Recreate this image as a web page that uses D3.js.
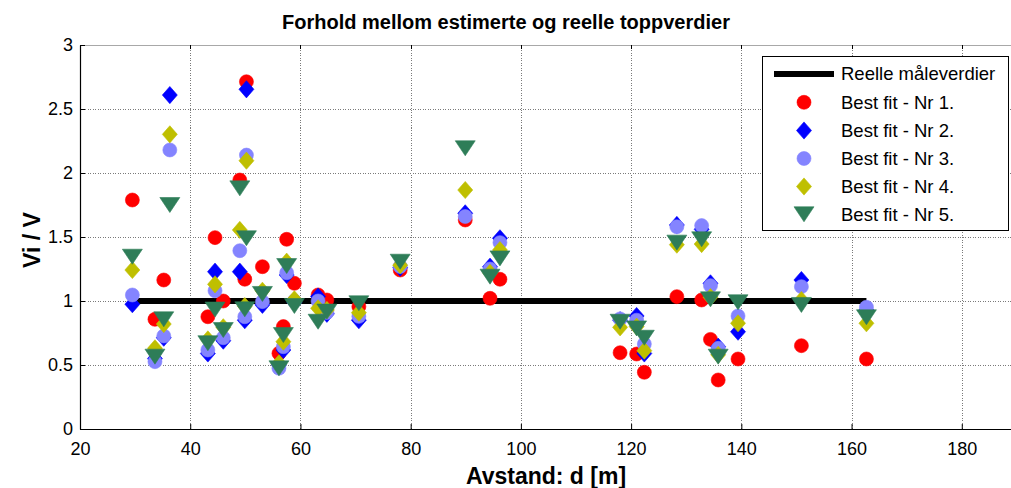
<!DOCTYPE html>
<html>
<head>
<meta charset="utf-8">
<script src="https://cdn.jsdelivr.net/npm/d3@7"></script>
<style>
  body { margin: 0; background: #fff; }
  svg { display: block; }
  text { font-family: "Liberation Sans", Arial, Helvetica, sans-serif; fill: #000; }
</style>
</head>
<body>
<svg id="chart" width="1011" height="488"></svg>
<script>
// Avstand d [m] for hver måling
const avstand = [29.5, 33.6, 35.2, 36.3, 43.2, 44.5, 46.0, 49.0, 49.9, 50.2,
                 53.1, 56.1, 56.9, 57.5, 58.9, 63.2, 64.8, 70.6, 78.1, 89.9,
                 94.4, 96.2, 118.0, 121.0, 122.4, 128.3, 132.8, 134.4, 135.8, 139.4,
                 150.9, 162.7];

// Forhold Vi / V for hver tilpasning (null = ikke registrert)
const nr1 = [1.789, 0.857, 1.164, null, 0.877, 1.495, 1.000, 1.945, 1.170, 2.713,
             1.268, 0.591, 0.800, 1.482, 1.138, 1.047, 1.008, 0.956, 1.242, 1.633,
             1.021, 1.170, 0.596, 0.586, 0.443, 1.034, 1.008, 0.700, 0.383, 0.547,
             0.651, 0.547];
const nr2 = [0.975, 0.550, 0.713, 2.609, 0.590, 1.229, 0.690, 1.229, 0.850, 2.654,
             0.970, 0.500, 0.617, 1.203, 0.990, 1.035, 0.900, 0.850, 1.260, 1.685,
             1.268, 1.490, 0.850, 0.883, 0.590, 1.594, 1.560, 1.138, 0.643, 0.760,
             1.164, 0.930];
const nr3 = [1.047, 0.526, 0.727, 2.180, 0.617, 1.080, 0.713, 1.393, 0.877, 2.140,
             0.995, 0.475, 0.643, 1.221, 1.000, 1.000, 0.910, 0.880, 1.270, 1.660,
             1.250, 1.456, 0.860, 0.850, 0.664, 1.580, 1.589, 1.120, 0.630, 0.883,
             1.112, 0.951];
const nr4 = [1.242, 0.630, 0.820, 2.302, 0.700, 1.130, 0.795, 1.555, 0.960, 2.096,
             1.080, 0.513, 0.682, 1.307, 1.013, 0.943, 0.930, 0.909, 1.280, 1.867,
             1.220, 1.398, 0.794, 0.800, 0.612, 1.440, 1.445, 1.030, 0.580, 0.826,
             1.008, 0.826];
const nr5 = [1.346, 0.565, 0.857, 1.750, 0.670, 0.933, 0.773, 1.880, 0.935, 1.490,
             1.055, 0.474, 0.734, 1.273, 0.961, 0.838, 0.917, 0.982, 1.307, 2.193,
             1.190, 1.333, 0.838, 0.786, 0.713, 1.456, 1.482, 1.013, 0.565, 0.990,
             0.969, 0.873];

const reelleVerdi = 1;

const xTicks = [20, 40, 60, 80, 100, 120, 140, 160, 180];
const yTicks = [0, 0.5, 1, 1.5, 2, 2.5, 3];

const seriesNames = ["Best fit - Nr 1.", "Best fit - Nr 2.", "Best fit - Nr 3.",
                     "Best fit - Nr 4.", "Best fit - Nr 5."];
const seriesValues = [nr1, nr2, nr3, nr4, nr5];
const seriesColors = ["#ff0000", "#0000ff", "#8484ff", "#bfbf00", "#2e7d58"];
const seriesShapes = ["circle", "diamond", "circle", "diamond", "triangleDown"];

// Marker outlines, centred on (0,0)
function markerPath(shape) {
  if (shape === "circle") {
    return d3.symbol().type(d3.symbolCircle).size(Math.PI * 7 * 7)();
  }
  const p = d3.path();
  if (shape === "diamond") {
    const w = 7.5, h = 8.6;
    p.moveTo(0, -h); p.lineTo(w, 0); p.lineTo(0, h); p.lineTo(-w, 0); p.closePath();
  } else {
    const w = 10, h = 7.5;
    p.moveTo(-w, -h); p.lineTo(w, -h); p.lineTo(0, h); p.closePath();
  }
  return p.toString();
}

const svg = d3.select("#chart");
const plotLeft = 80, plotRight = 1072, plotTop = 45, plotBottom = 429;

// x runs on past the right edge of the picture (to 200)
const x = d3.scaleLinear().domain([20, 200]).range([plotLeft, plotRight]);
const y = d3.scaleLinear().domain([0, 3]).range([plotBottom, plotTop]);

// Grid
const grid = svg.append("g").attr("stroke", "#7a7a7a").attr("stroke-width", 1)
  .attr("stroke-dasharray", "1,1.5").attr("shape-rendering", "crispEdges");
grid.selectAll("line.gx").data(xTicks.filter(t => t > 20)).join("line")
  .attr("class", "gx")
  .attr("x1", d => Math.round(x(d)) + 0.5).attr("x2", d => Math.round(x(d)) + 0.5)
  .attr("y1", plotTop).attr("y2", plotBottom);
grid.selectAll("line.gy").data(yTicks.filter(t => t > 0 && t < 3)).join("line")
  .attr("class", "gy")
  .attr("x1", plotLeft).attr("x2", plotRight)
  .attr("y1", d => Math.round(y(d)) + 0.5).attr("y2", d => Math.round(y(d)) + 0.5);

// Top border
svg.append("line").attr("x1", plotLeft).attr("x2", plotRight)
  .attr("y1", plotTop + 0.5).attr("y2", plotTop + 0.5)
  .attr("stroke", "#a8a8a8").attr("stroke-width", 1);
svg.append("g").selectAll("line").data(xTicks).join("line")
  .attr("x1", d => Math.round(x(d)) + 0.5).attr("x2", d => Math.round(x(d)) + 0.5)
  .attr("y1", plotTop).attr("y2", plotTop + 4)
  .attr("stroke", "#000").attr("stroke-width", 1);

// Axes
const xAxis = d3.axisBottom(x).tickValues(xTicks).tickFormat(d3.format("d"))
  .tickSizeInner(-5).tickSizeOuter(0).tickPadding(13);
const gx = svg.append("g").attr("transform", `translate(0,${plotBottom})`).call(xAxis);
gx.selectAll("text").attr("font-size", 18).attr("fill", "#000")
  .attr("font-family", "'Liberation Sans', Arial, sans-serif");

const yAxis = d3.axisLeft(y).tickValues(yTicks).tickFormat(d => String(d))
  .tickSizeInner(-5).tickSizeOuter(0).tickPadding(7);
const gy = svg.append("g").attr("transform", `translate(${plotLeft},0)`).call(yAxis);
gy.selectAll("text").attr("font-size", 18).attr("fill", "#000")
  .attr("font-family", "'Liberation Sans', Arial, sans-serif");

[gx, gy].forEach(g => {
  g.select(".domain").attr("stroke", "#000").attr("stroke-width", 1.2);
  g.selectAll(".tick line").attr("stroke", "#000");
});

// Reference line
const refLine = d3.line().x(d => x(d)).y(() => y(reelleVerdi));
svg.append("path")
  .attr("d", refLine([d3.min(avstand), d3.max(avstand)]))
  .attr("fill", "none").attr("stroke", "#000").attr("stroke-width", 6);

// Series markers
seriesValues.forEach((vals, i) => {
  const pts = avstand.map((d, j) => ({ d, v: vals[j] })).filter(p => p.v !== null);
  svg.append("g").selectAll("path").data(pts).join("path")
    .attr("d", markerPath(seriesShapes[i]))
    .attr("transform", p => `translate(${x(p.d)},${y(p.v)})`)
    .attr("fill", seriesColors[i])
    .attr("stroke", seriesColors[i]).attr("stroke-width", 0.6);
});

// Title and axis labels
svg.append("text").attr("x", 506).attr("y", 29).attr("text-anchor", "middle")
  .attr("font-size", 20).attr("font-weight", "bold")
  .text("Forhold mellom estimerte og reelle toppverdier");
svg.append("text").attr("x", 546).attr("y", 484).attr("text-anchor", "middle")
  .attr("font-size", 23).attr("font-weight", "bold")
  .text("Avstand: d [m]");
svg.append("text").attr("transform", "translate(40,240) rotate(-90)")
  .attr("text-anchor", "middle")
  .attr("font-size", 23).attr("font-weight", "bold")
  .text("Vi / V");

// Legend
const lg = svg.append("g");
lg.append("rect").attr("x", 762.5).attr("y", 56.5).attr("width", 246).attr("height", 174)
  .attr("fill", "#fff").attr("stroke", "#000").attr("stroke-width", 1);
const rowY = [74, 102.3, 130.5, 158.5, 186.5, 214.3];
lg.append("line").attr("x1", 774).attr("x2", 834).attr("y1", rowY[0]).attr("y2", rowY[0])
  .attr("stroke", "#000").attr("stroke-width", 6);
lg.append("text").attr("x", 841).attr("y", rowY[0]).attr("dy", "0.35em")
  .attr("font-size", 18.5).text("Reelle måleverdier");
seriesNames.forEach((name, i) => {
  lg.append("path").attr("d", markerPath(seriesShapes[i]))
    .attr("transform", `translate(804,${rowY[i + 1]})`)
    .attr("fill", seriesColors[i]).attr("stroke", seriesColors[i]).attr("stroke-width", 0.6);
  lg.append("text").attr("x", 841).attr("y", rowY[i + 1]).attr("dy", "0.35em")
    .attr("font-size", 18.5).text(name);
});
</script>
</body>
</html>
